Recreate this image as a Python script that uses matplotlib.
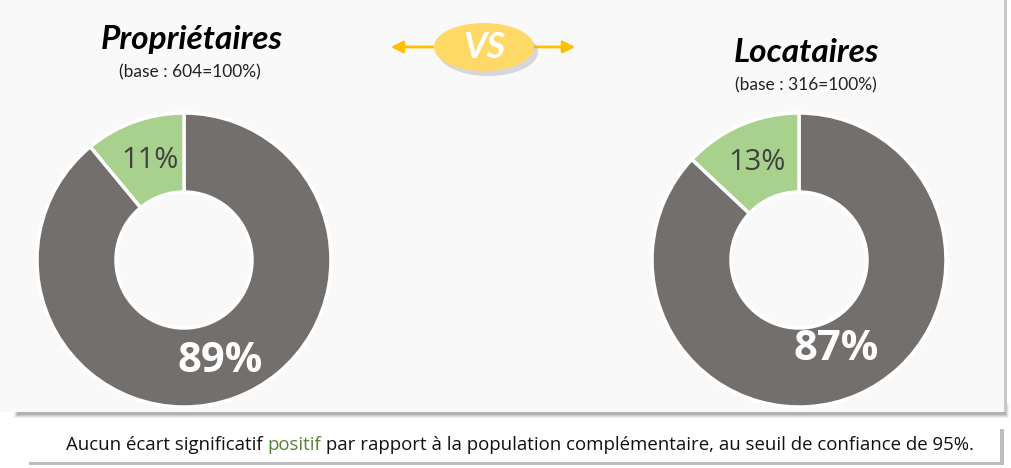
import matplotlib
matplotlib.use("Agg")
import matplotlib.pyplot as plt
from matplotlib.patches import Rectangle, Ellipse, FancyArrowPatch

W, H = 1012, 468

groups = ["Propriétaires", "Locataires"]
bases = ["(base : 604=100%)", "(base : 316=100%)"]
main_share = [89, 87]
other_share = [11, 13]

grey = "#736f6c"
green = "#a9d18e"

fig = plt.figure(figsize=(W / 100, H / 100), dpi=100)
fig.patch.set_facecolor("white")
ax = fig.add_axes([0, 0, 1, 1])

def Y(y):
    return H - y

# panel shadow + panel
for i, a in enumerate([0.05, 0.07, 0.09, 0.12]):
    ax.add_patch(Rectangle((14 + i, Y(418 - i)), 995 - 2 * i, 14, facecolor="black",
                           alpha=a, edgecolor="none", zorder=0))
ax.add_patch(Rectangle((0, Y(412)), 1004, 412, facecolor="#f9f9f9", edgecolor="none", zorder=1))
ax.add_patch(Rectangle((1004, Y(412)), 3, 412, facecolor="#c8c8c8", edgecolor="none", zorder=1))

# footnote box
ax.add_patch(Rectangle((29, Y(465)), 975, 36, facecolor="#bdbdbd", edgecolor="none", zorder=1))
ax.add_patch(Rectangle((26, Y(462)), 974, 35, facecolor="white", edgecolor="none", zorder=2))

centers = [(184, 260), (799, 260)]
R = 147
ring = 79
label_small = [(150, 160), (757, 162)]
label_big = [(220, 362), (836, 350)]
title_pos = [(192, 40), (806, 52)]
base_pos = [(190, 72), (806, 85)]

for k in range(2):
    cx, cy = centers[k]
    ax.pie([main_share[k], other_share[k]], colors=[grey, green], startangle=90,
           counterclock=False, center=(cx, Y(cy)), radius=R, frame=True,
           wedgeprops=dict(width=ring, edgecolor="white", linewidth=2.5))
    ax.text(label_small[k][0], Y(label_small[k][1]), f"{other_share[k]}%", fontsize=21,
            color="#404040", ha="center", va="center", family="Open Sans", zorder=5)
    ax.text(label_big[k][0], Y(label_big[k][1]), f"{main_share[k]}%", fontsize=30,
            color="white", ha="center", va="center", family="Open Sans",
            fontweight="bold", zorder=5)
    ax.text(title_pos[k][0], Y(title_pos[k][1]), groups[k], fontsize=24,
            color="black", ha="center", va="center", family="Lato",
            fontweight="bold", style="italic", zorder=5)
    ax.text(base_pos[k][0], Y(base_pos[k][1]), bases[k], fontsize=12.5,
            color="#222222", ha="center", va="center", family="Lato", zorder=5)

# VS badge with arrows
arrow_color = "#ffc000"
for x0, x1 in [(440, 388), (528, 578)]:
    ax.add_patch(FancyArrowPatch((x0, Y(47)), (x1, Y(47)), arrowstyle="-|>",
                                 mutation_scale=18, color=arrow_color, lw=2, zorder=3))
ax.add_patch(Ellipse((488, Y(52)), 100, 48, facecolor="#999999", alpha=0.35,
                     edgecolor="none", zorder=3))
ax.add_patch(Ellipse((484, Y(47)), 100, 48, facecolor="#ffd966", edgecolor="none", zorder=4))
ax.text(484, Y(47), "VS", fontsize=26, color="white", ha="center", va="center",
        family="Lato", fontweight="bold", style="italic", zorder=5)

# footnote
fs = 13.4
y_fn = Y(445)
t1 = ax.text(66, y_fn, "Aucun écart significatif ", fontsize=fs, color="#111111",
             ha="left", va="center", family="Open Sans", zorder=5)
t2 = ax.annotate("positif", xycoords=t1, xy=(1, 0.5), va="center", ha="left",
                 fontsize=fs, color="#548235", family="Open Sans", zorder=5)
t3 = ax.annotate(" par rapport à la population complémentaire, au seuil de confiance de 95%.",
                 xycoords=t2, xy=(1, 0.5), va="center", ha="left", fontsize=fs,
                 color="#111111", family="Open Sans", zorder=5)

ax.set_xlim(0, W)
ax.set_ylim(0, H)
ax.set_aspect("auto")
ax.axis("off")

fig.savefig("out.png", dpi=100, facecolor="white")
